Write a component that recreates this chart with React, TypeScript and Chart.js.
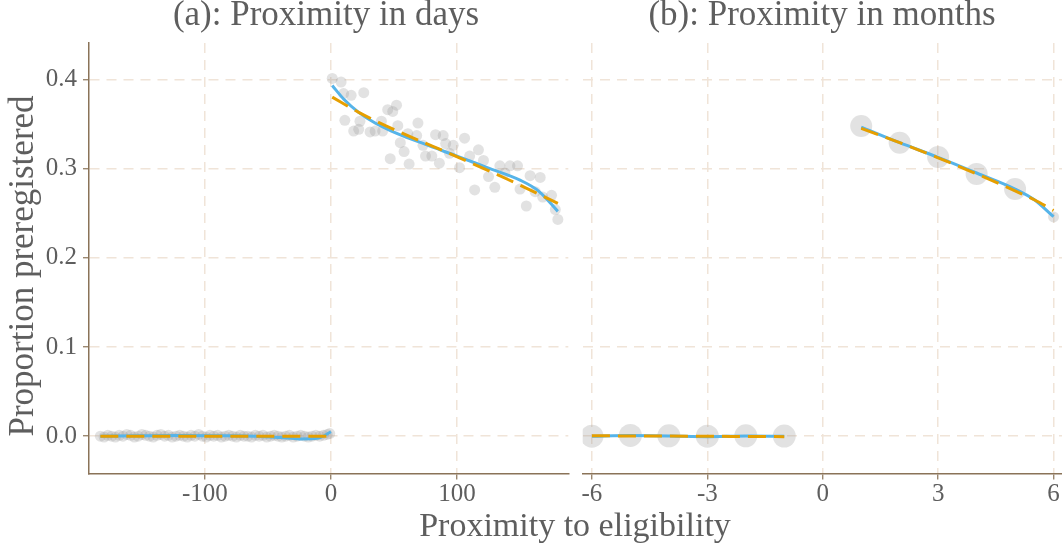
import React, { useEffect, useRef } from "react";
import { Chart, registerables } from "chart.js";

Chart.register(...registerables);

// ---------- Panel (a): proximity in days ----------
const dayPreX = [
  -183, -180, -177, -174, -171, -168, -165, -162, -159, -156, -153, -150, -147, -144, -141, -138,
  -135, -132, -129, -126, -123, -120, -117, -114, -111, -108, -105, -102, -99, -96, -93, -90,
  -87, -84, -81, -78, -75, -72, -69, -66, -63, -60, -57, -54, -51, -48, -45, -42, -39, -36,
  -33, -30, -27, -24, -21, -18, -15, -12, -9, -6, -3, -1,
];
const dayPreY = [
  0.000, -0.001, 0.001, 0.000, -0.001, 0.001, 0.000, 0.002, 0.001, -0.001, 0.000, 0.002,
  0.001, 0.000, -0.001, 0.001, 0.002, 0.000, 0.001, -0.001, 0.000, 0.001, 0.000, -0.001,
  0.001, 0.000, 0.002, 0.000, -0.001, 0.001, 0.000, 0.001, -0.001, 0.000, 0.001, 0.000,
  -0.001, 0.001, 0.000, 0.000, -0.001, 0.001, 0.000, 0.001, -0.001, 0.000, 0.001, 0.000,
  -0.001, 0.000, 0.001, -0.001, 0.000, 0.001, 0.000, -0.001, 0.000, 0.001, 0.000, 0.001,
  0.002, 0.003,
];
const dayPostX = [
  1, 8, 10, 11, 16, 18, 22, 23, 26, 31, 35, 40, 41, 45, 47, 49, 52, 53, 55, 58, 61, 62, 68, 69,
  73, 75, 80, 83, 86, 89, 91, 94, 97, 102, 106, 110, 114, 117, 121, 125, 130, 134, 138, 142,
  148, 150, 155, 158, 162, 166, 168, 175, 178, 180,
];
const dayPostY = [
  0.401, 0.397, 0.384, 0.354, 0.382, 0.342, 0.344, 0.353, 0.385, 0.341, 0.342, 0.353, 0.342,
  0.366, 0.311, 0.364, 0.371, 0.348, 0.329, 0.319, 0.339, 0.305, 0.337, 0.351, 0.326, 0.314,
  0.314, 0.338, 0.306, 0.337, 0.328, 0.317, 0.326, 0.301, 0.334, 0.314, 0.276, 0.321, 0.309,
  0.291, 0.279, 0.303, 0.295, 0.303, 0.303, 0.277, 0.258, 0.292, 0.274, 0.290, 0.268, 0.270,
  0.254, 0.243,
];
// fitted curves (knots)
const dayFitPreX = [-183, -150, -120, -90, -60, -40, -25, -10, 0];
const dayBluePreY = [0.0, 0.0005, 0.0008, 0.0005, 0.0, -0.0015, -0.003, -0.002, 0.005];
const dayOrangePreX = [-183, -3];
const dayOrangePreY = [0.0, 0.0];
const dayBluePostX = [1, 10, 22, 35, 48, 75, 100, 124, 150, 165, 180];
const dayBluePostY = [0.393, 0.378, 0.363, 0.351, 0.342, 0.327, 0.314, 0.301, 0.287, 0.2745, 0.252];
const dayOrangePostX = [1, 22, 48, 102, 140, 180];
const dayOrangePostY = [0.38, 0.363, 0.345, 0.312, 0.288, 0.261];
const dayTicks = [-100, 0, 100];
const dayTickLabels = ["-100", "0", "100"];

// ---------- Panel (b): proximity in months ----------
const monthX = [-6, -5, -4, -3, -2, -1, 1, 2, 3, 4, 5, 6];
const monthY = [0.0, 0.0008, 0.0005, 0.0, 0.0005, 0.0002, 0.3476, 0.329, 0.313, 0.294, 0.277, 0.2457];
const monthSize = [11.5, 11.5, 11.5, 11.5, 11.5, 11.5, 11, 11, 11, 11, 11, 5.5];
const monthFitPreX = [-6, -5, -4, -3, -2, -1];
const monthBluePreY = [0.0, 0.0007, 0.0003, -0.0005, 0.0002, 0.0];
const monthOrangePreY = [0.0005, 0.0003, 0.0001, -0.0001, -0.0003, -0.0005];
const monthFitPostX = [1, 2, 3, 4, 5, 5.5, 6];
const monthBluePostY = [0.3465, 0.329, 0.3125, 0.295, 0.277, 0.265, 0.246];
const monthOrangePostY = [0.345, 0.329, 0.312, 0.294, 0.275, 0.265, 0.253];
const monthTicks = [-6, -3, 0, 3, 6];
const monthTickLabels = ["-6", "-3", "0", "3", "6"];

const yTicks = [0, 0.1, 0.2, 0.3, 0.4];
const yTickLabels = ["0.0", "0.1", "0.2", "0.3", "0.4"];

const titleA = "(a): Proximity in days";
const titleB = "(b): Proximity in months";
const xTitle = "Proximity to eligibility";
const yTitle = "Proportion preregistered";

const FONT = "'Liberation Serif', 'Times New Roman', serif";
const TEXT = "#5e5e5e";
const AXIS = "#8a7358";
const GRID = "#f0e4d8";
const BLUE = "#56B4E9";
const ORANGE = "#E69F00";
const POINT = "rgba(150,150,150,0.28)";

const Y_MIN = -0.0418;
const Y_MAX = 0.4407;

const pts = (xs: number[], ys: number[]) => xs.map((x, i) => ({ x, y: ys[i] }));

function lineSet(xs: number[], ys: number[], color: string, dashed: boolean, order: number) {
  return {
    type: "line" as const,
    data: pts(xs, ys),
    borderColor: color,
    backgroundColor: color,
    borderWidth: 3,
    borderDash: dashed ? [18, 8] : [],
    pointRadius: 0,
    fill: false,
    tension: 0.4,
    cubicInterpolationMode: "monotone" as const,
    clip: 0,
    order,
  };
}

function makeOptions(
  xMin: number,
  xMax: number,
  xTickVals: number[],
  xTickLbls: string[],
  showY: boolean,
  yWidth: number,
  padRight: number
): any {
  return {
    animation: false,
    responsive: true,
    maintainAspectRatio: false,
    layout: { autoPadding: false, padding: { top: 43, right: padRight, bottom: 0, left: 0 } },
    plugins: { legend: { display: false }, tooltip: { enabled: false }, title: { display: false } },
    scales: {
      x: {
        type: "linear",
        min: xMin,
        max: xMax,
        afterBuildTicks: (s: any) => {
          s.ticks = xTickVals.map((v) => ({ value: v }));
        },
        afterFit: (s: any) => {
          s.height = 548 - 473.5;
          s.paddingLeft = 0;
          s.paddingRight = 0;
        },
        ticks: {
          callback: (v: number) => {
            const i = xTickVals.indexOf(v);
            return i >= 0 ? xTickLbls[i] : "";
          },
          font: { family: FONT, size: 25 },
          color: TEXT,
          padding: 0,
          maxRotation: 0,
          autoSkip: false,
        },
        grid: {
          color: GRID,
          lineWidth: 1.5,
          tickColor: AXIS,
          tickLength: 6,
          tickWidth: 1.2,
          tickBorderDash: [],
        },
        border: { display: true, color: AXIS, width: 1.5, dash: [10, 7] },
      },
      y: {
        type: "linear",
        min: Y_MIN,
        max: Y_MAX,
        afterBuildTicks: (s: any) => {
          s.ticks = yTicks.map((v) => ({ value: v }));
        },
        afterFit: (s: any) => {
          s.width = yWidth;
          s.paddingTop = 0;
          s.paddingBottom = 0;
        },
        ticks: {
          display: showY,
          callback: (v: number) => {
            const i = yTicks.indexOf(v);
            return i >= 0 ? yTickLabels[i] : "";
          },
          font: { family: FONT, size: 25 },
          color: TEXT,
          padding: 6,
        },
        grid: {
          color: GRID,
          lineWidth: 1.5,
          tickColor: AXIS,
          tickLength: showY ? 6 : 0,
          drawTicks: showY,
          tickWidth: 1.2,
          tickBorderDash: [],
        },
        border: { display: showY, color: AXIS, width: 1.5, dash: [10, 7] },
      },
    },
  };
}

function PanelChart(props: { which: "a" | "b" }) {
  const ref = useRef<HTMLCanvasElement | null>(null);
  useEffect(() => {
    if (!ref.current) return;
    let datasets: any[];
    let options: any;
    if (props.which === "a") {
      datasets = [
        lineSet(dayOrangePostX, dayOrangePostY, ORANGE, true, 0),
        lineSet(dayOrangePreX, dayOrangePreY, ORANGE, true, 0),
        lineSet(dayBluePostX, dayBluePostY, BLUE, false, 1),
        lineSet(dayFitPreX, dayBluePreY, BLUE, false, 1),
        {
          type: "scatter",
          data: pts(dayPreX, dayPreY).concat(pts(dayPostX, dayPostY)),
          backgroundColor: POINT,
          borderWidth: 0,
          pointRadius: 5.5,
          clip: 0,
          order: 2,
        },
      ];
      options = makeOptions(-192, 188.3, dayTicks, dayTickLabels, true, 89, 575 - 568.3);
    } else {
      datasets = [
        lineSet(monthFitPostX, monthOrangePostY, ORANGE, true, 0),
        lineSet(monthFitPreX, monthOrangePreY, ORANGE, true, 0),
        lineSet(monthFitPostX, monthBluePostY, BLUE, false, 1),
        lineSet(monthFitPreX, monthBluePreY, BLUE, false, 1),
        {
          type: "scatter",
          data: pts(monthX, monthY),
          backgroundColor: POINT,
          borderWidth: 0,
          pointRadius: monthSize,
          clip: 0,
          order: 2,
        },
      ];
      options = makeOptions(-6.24, 6.22, monthTicks, monthTickLabels, false, 582.7 - 575, 0);
    }
    const chart = new Chart(ref.current, { type: "scatter", data: { datasets }, options });
    return () => chart.destroy();
  }, [props.which]);
  return <canvas ref={ref} />;
}

export default function App() {
  const textBase: React.CSSProperties = {
    position: "absolute",
    fontFamily: FONT,
    color: TEXT,
    whiteSpace: "nowrap",
    textAlign: "center",
  };
  return (
    <div style={{ position: "absolute", left: 0, top: 0, width: 1062, height: 548, background: "#fff", overflow: "hidden" }}>
      <div style={{ position: "absolute", left: 0, top: 0, width: 575, height: 548 }}>
        <PanelChart which="a" />
      </div>
      <div style={{ position: "absolute", left: 575, top: 0, width: 487, height: 548 }}>
        <PanelChart which="b" />
      </div>
      <div style={{ ...textBase, left: 126, top: -3, width: 400, fontSize: 35, lineHeight: "34px" }}>{titleA}</div>
      <div style={{ ...textBase, left: 622, top: -3, width: 400, fontSize: 35, lineHeight: "34px" }}>{titleB}</div>
      <div style={{ ...textBase, left: 375, top: 508, width: 400, fontSize: 34, lineHeight: "34px" }}>{xTitle}</div>
      <div
        style={{
          ...textBase,
          left: 22 - 200,
          top: 265.5 - 17,
          width: 400,
          fontSize: 35,
          lineHeight: "34px",
          transform: "rotate(-90deg)",
        }}
      >
        {yTitle}
      </div>
    </div>
  );
}
